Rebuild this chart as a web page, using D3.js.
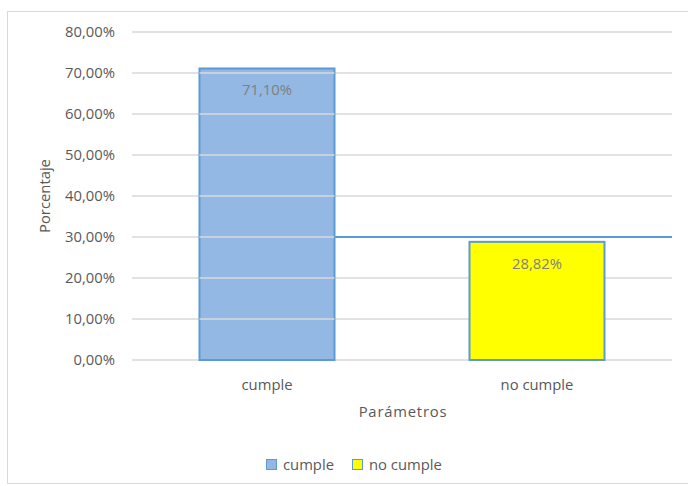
<!DOCTYPE html>
<html>
<head>
<meta charset="utf-8">
<script src="https://cdn.jsdelivr.net/npm/d3@7"></script>
<style>
  html, body { margin: 0; padding: 0; background: #fff; }
  svg text { font-family: "Open Sans", "Noto Sans", sans-serif; }
</style>
</head>
<body>
<svg id="chart" width="688" height="486"></svg>
<script>
// Cumplimiento de parámetros
const categories = ["cumple", "no cumple"];
const values = [0.7110, 0.2882];
const valueLabels = ["71,10%", "28,82%"];
const yTicks = [0, 0.1, 0.2, 0.3, 0.4, 0.5, 0.6, 0.7, 0.8];
const colors = ["#93B8E3", "#FFFF00"];
const referenceLevel = 0.30;

const svg = d3.select("#chart");
const fontSize = 14.8;

// outer frame
svg.append("rect")
  .attr("x", 7.5).attr("y", 11.5)
  .attr("width", 690).attr("height", 472)
  .attr("fill", "#fff").attr("stroke", "#D9D9D9");

const margin = { left: 132, right: 672, top: 32, bottom: 360 };

const x = d3.scaleBand()
  .domain(categories)
  .range([margin.left, margin.right])
  .paddingInner(0.5)
  .paddingOuter(0.25);

const y = d3.scaleLinear()
  .domain([0, 0.8])
  .range([margin.bottom, margin.top]);

const fmt = v => d3.format(".2f")(v * 100).replace(".", ",") + "%";

// gridlines
const grid = svg.append("g");
grid.selectAll("line")
  .data(yTicks)
  .join("line")
  .attr("x1", margin.left).attr("x2", margin.right)
  .attr("y1", d => y(d)).attr("y2", d => y(d))
  .attr("stroke", "#D9D9D9").attr("stroke-width", 1.5);

// y axis labels
const yAxis = d3.axisLeft(y).tickValues(yTicks).tickFormat(fmt).tickSize(0).tickPadding(0);
svg.append("g")
  .attr("transform", `translate(${margin.left - 17},0)`)
  .call(yAxis)
  .call(g => g.select(".domain").remove())
  .call(g => g.selectAll("text")
    .attr("fill", "#595959")
    .attr("font-size", fontSize));

// bars
svg.append("g").selectAll("rect")
  .data(categories)
  .join("rect")
  .attr("x", d => x(d))
  .attr("width", x.bandwidth())
  .attr("y", (d, i) => y(values[i]))
  .attr("height", (d, i) => y(0) - y(values[i]))
  .attr("fill", (d, i) => colors[i])
  .attr("stroke", "#5B9BD5")
  .attr("stroke-width", 2);

// gridlines crossing the first bar
svg.append("g").selectAll("line")
  .data(yTicks.filter(t => t > 0 && t < values[0]))
  .join("line")
  .attr("x1", x(categories[0])).attr("x2", x(categories[0]) + x.bandwidth())
  .attr("y1", d => y(d)).attr("y2", d => y(d))
  .attr("stroke", "#D9D9D9").attr("stroke-width", 1.5);

// reference line at 30%
svg.append("line")
  .attr("x1", x(categories[0]) + x.bandwidth()).attr("x2", margin.right)
  .attr("y1", y(referenceLevel)).attr("y2", y(referenceLevel))
  .attr("stroke", "#5B9BD5").attr("stroke-width", 2);

// value labels
svg.append("g").selectAll("text")
  .data(categories)
  .join("text")
  .attr("x", d => x(d) + x.bandwidth() / 2)
  .attr("y", (d, i) => y(values[i]) + 27)
  .attr("text-anchor", "middle")
  .attr("fill", "#7F7F7F")
  .attr("font-size", fontSize)
  .text((d, i) => valueLabels[i]);

// x category labels
const xAxis = d3.axisBottom(x).tickSize(0).tickPadding(0);
svg.append("g")
  .attr("transform", `translate(0,${margin.bottom + 30})`)
  .call(xAxis)
  .call(g => g.select(".domain").remove())
  .call(g => g.selectAll("text")
    .attr("dy", 0)
    .attr("fill", "#595959")
    .attr("font-size", fontSize));

// axis titles
svg.append("text")
  .attr("x", 403).attr("y", 417)
  .attr("text-anchor", "middle")
  .attr("fill", "#595959").attr("font-size", fontSize)
  .attr("letter-spacing", 0.8)
  .text("Parámetros");

svg.append("text")
  .attr("transform", "translate(50,196) rotate(-90)")
  .attr("text-anchor", "middle")
  .attr("fill", "#595959").attr("font-size", fontSize)
  .text("Porcentaje");

// legend
const legendPos = [266, 352];
const legend = svg.append("g").selectAll("g")
  .data(categories)
  .join("g")
  .attr("transform", (d, i) => `translate(${legendPos[i]},459)`);
legend.append("rect")
  .attr("x", 0.5).attr("y", 0.5)
  .attr("width", 10).attr("height", 10)
  .attr("fill", (d, i) => colors[i])
  .attr("stroke", "#5B9BD5");
legend.append("text")
  .attr("x", 17).attr("y", 11)
  .attr("fill", "#595959").attr("font-size", fontSize)
  .text(d => d);
</script>
</body>
</html>
